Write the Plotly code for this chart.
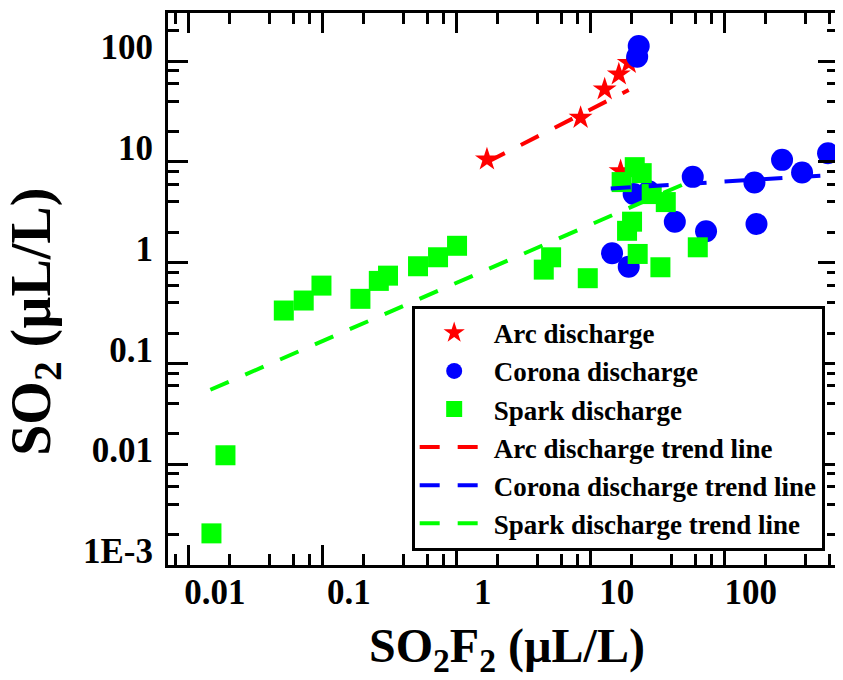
import plotly.graph_objects as go

# ---- data ----
arc_x = [1.68, 8.4, 12.7, 16.2, 19.2, 16.7]
arc_y = [10.6, 27.4, 52.5, 73.8, 96.0, 8.1]

corona_x = [22.8, 22.2, 20.9, 27.1, 57.7, 166.5, 267.7, 377.5, 590, 42.4, 72.5, 172.5, 14.42, 19.2]
corona_y = [140.8, 110.5, 4.79, 5.10, 7.10, 6.25, 10.47, 7.85, 12.2, 2.55, 2.05, 2.42, 1.24, 0.913]

spark_x = [0.01477, 0.01879, 0.0512, 0.0721, 0.0978, 0.191, 0.262, 0.307, 0.514, 0.725, 1.005,
           4.46, 5.06, 9.50, 18.66, 20.33, 22.4, 33.1, 62.9,
           17.0, 21.3, 24.0, 28.5, 36.3]
spark_y = [0.00206, 0.01227, 0.335, 0.421, 0.592, 0.4375, 0.659, 0.743, 0.921, 1.131, 1.47,
           0.853, 1.13, 0.701, 2.07, 2.55, 1.22, 0.90, 1.42,
           6.30, 8.86, 7.73, 4.79, 3.99]

arc_trend_x = [1.68, 19.2]
arc_trend_y = [9.93, 51.6]
corona_trend_x = [14.1, 520]
corona_trend_y = [5.43, 7.3]
spark_trend_x = [0.0145, 62.9]
spark_trend_y = [0.0548, 6.91]

x_tickvals = [0.01, 0.1, 1, 10, 100]
x_ticktext = ["0.01", "0.1", "1", "10", "100"]
y_tickvals = [0.001, 0.01, 0.1, 1, 10, 100]
y_ticktext = ["1E-3", "0.01", "0.1", "1", "10", "100"]

FONT = "Liberation Serif"

def minor_vals(lo_exp, hi_exp, vmin, vmax):
    out = []
    for e in range(lo_exp, hi_exp + 1):
        for m in (2, 4, 6, 8):
            v = m * 10 ** e
            if vmin < v < vmax:
                out.append(v)
    return out

fig = go.Figure()
fig.add_trace(go.Scatter(x=arc_x, y=arc_y, mode="markers", name="<b>Arc discharge</b>",
                         marker=dict(symbol="star", size=18, color="#FF0000", line=dict(width=0))))
fig.add_trace(go.Scatter(x=corona_x, y=corona_y, mode="markers", name="<b>Corona discharge</b>",
                         marker=dict(symbol="circle", size=22, color="#0000FF", line=dict(width=0))))
fig.add_trace(go.Scatter(x=spark_x, y=spark_y, mode="markers", name="<b>Spark discharge</b>",
                         marker=dict(symbol="square", size=20, color="#00FF00", line=dict(width=0))))
fig.add_trace(go.Scatter(x=arc_trend_x, y=arc_trend_y, mode="lines", name="<b>Arc discharge trend line</b>",
                         line=dict(color="#FF0000", width=4, dash="20px,18px")))
fig.add_trace(go.Scatter(x=corona_trend_x, y=corona_trend_y, mode="lines", name="<b>Corona discharge trend line</b>",
                         line=dict(color="#0000FF", width=4, dash="20px,18px")))
fig.add_trace(go.Scatter(x=spark_trend_x, y=spark_trend_y, mode="lines", name="<b>Spark discharge trend line</b>",
                         line=dict(color="#00FF00", width=4, dash="20px,18px")))

axis_common = dict(
    type="log", showgrid=False, zeroline=False, automargin=False,
    showline=True, linewidth=3, linecolor="black", mirror="ticks",
    ticks="inside", ticklen=20, tickwidth=3, tickcolor="black",
    tickfont=dict(family=FONT, size=35, color="black"),
)

fig.update_xaxes(
    **axis_common,
    range=[-2.1549, 2.8451],
    tickvals=x_tickvals, ticktext=[f"<b>{t}</b>" for t in x_ticktext],
    ticklabelshift=26, ticklabelstandoff=-6,
    minor=dict(tickvals=minor_vals(-3, 2, 0.007, 700), ticks="inside", ticklen=11, tickwidth=3, tickcolor="black"),
)
fig.update_yaxes(
    **axis_common,
    range=[-3, 2.4771],
    tickvals=y_tickvals, ticktext=[f"<b>{t}</b>" for t in y_ticktext],
    ticklabelshift=-14, ticklabelstandoff=5,
    minor=dict(tickvals=minor_vals(-3, 2, 0.001, 300), ticks="inside", ticklen=11, tickwidth=3, tickcolor="black"),
)

fig.add_annotation(text="<b>SO<sub>2</sub>F<sub>2</sub> (µL/L)</b>", xref="paper", yref="paper",
                   x=0.5067, y=-0.152, xanchor="center", yanchor="middle", showarrow=False,
                   font=dict(family=FONT, size=48, color="black"))
fig.add_annotation(text="<b>SO<sub>2</sub> (µL/L)</b>", xref="paper", yref="paper",
                   x=-0.199, y=0.440, xanchor="center", yanchor="middle", showarrow=False, textangle=-90,
                   font=dict(family=FONT, size=56, color="black"))

# the page body adds an 8px offset, so the figure is sized and margined to compensate
fig.update_layout(
    width=835, height=672,
    margin=dict(l=160, r=5, t=5, b=115),
    paper_bgcolor="white", plot_bgcolor="white",
    legend=dict(x=0.3637, y=0.4697, xanchor="left", yanchor="top",
                bgcolor="white", bordercolor="black", borderwidth=3,
                font=dict(family=FONT, size=27, color="black"),
                itemwidth=69, tracegroupgap=0),
)

fig.write_html("out.html")
